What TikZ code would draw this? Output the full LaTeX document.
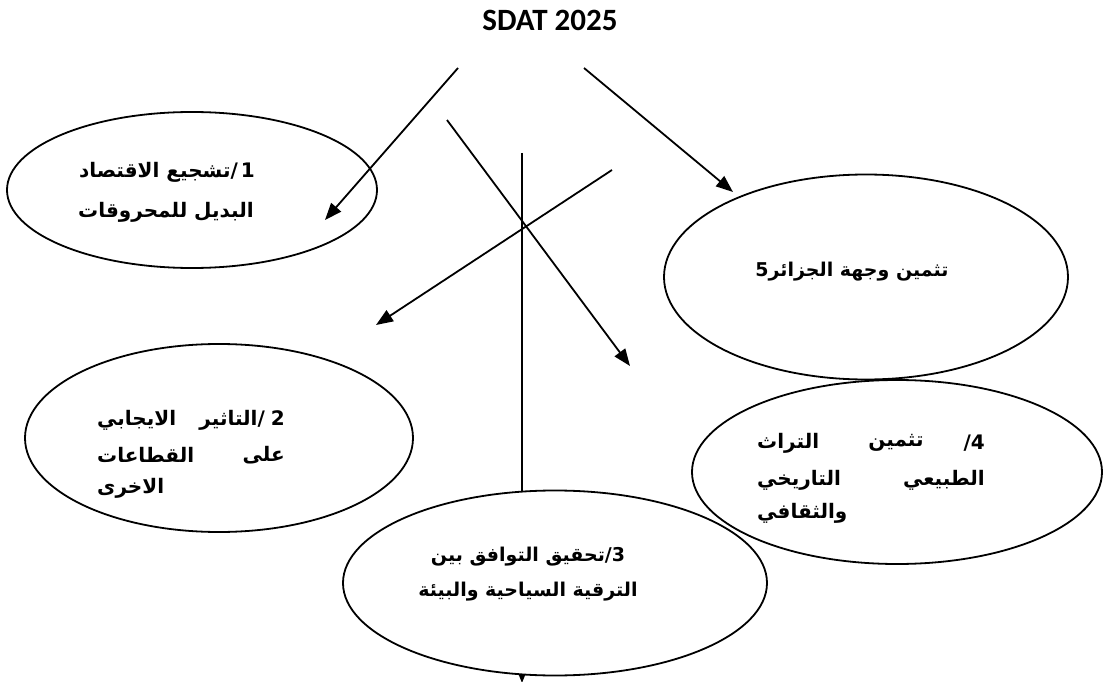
\documentclass[tikz,border=0pt]{standalone}
\usepackage{fontspec}
\usetikzlibrary{shapes.geometric,arrows.meta}
\TeXXeTstate=1
\newfontfamily\arabicfont[Script=Arabic]{DejaVu Sans}
\newfontfamily\titlefont{Carlito}
\begin{document}
\begin{tikzpicture}[x=1pt,y=-1pt,
  oval/.style={ellipse,draw,line width=1.8pt,fill=white,inner sep=0pt},
  conn/.style={line width=1.8pt,-{Triangle[length=17pt,width=13pt]}},
  ar/.style={font=\arabicfont\bfseries\fontsize{20}{24}\selectfont,inner sep=0pt},
  arsm/.style={font=\arabicfont\bfseries\fontsize{19}{23}\selectfont,inner sep=0pt}]
\useasboundingbox[fill=white] (0,0) rectangle (1104,682);

\node[font=\titlefont\bfseries\fontsize{31}{36}\selectfont,inner sep=0pt] (title) at (550,20) {SDAT 2025};

\coordinate (s1) at (458,68);  \coordinate (t1) at (325,220);
\coordinate (s5) at (584,68);  \coordinate (t5) at (733,192);
\coordinate (s4) at (447,120); \coordinate (t4) at (630,366);
\coordinate (s2) at (612,170); \coordinate (t2) at (376,325);
\coordinate (s3) at (522,153); \coordinate (t3) at (522,683);

\draw[conn] (s3) -- (t3);

\node[oval,minimum width=370pt,minimum height=156pt] (e1) at (192,190) {};
\node[oval,minimum width=404pt,minimum height=205pt] (e5) at (866,277) {};
\node[oval,minimum width=388pt,minimum height=188pt] (e2) at (219,438) {};
\node[oval,minimum width=410pt,minimum height=184pt] (e4) at (897,472) {};
\node[oval,minimum width=424pt,minimum height=185pt] (e3) at (555,583) {};

\draw[conn] (s1) -- (t1);
\draw[conn] (s5) -- (t5);
\draw[conn] (s4) -- (t4);
\draw[conn] (s2) -- (t2);

% ellipse 1
\node[ar,anchor=east] (e1a) at (255,172) {\hbox{\beginR تشجيع الاقتصاد\endR}\hbox{/}\kern3pt\hbox{1}};
\node[ar,anchor=west] (e1b) at (78,212) {\beginR البديل للمحروقات\endR};
% ellipse 5
\node[arsm] (e5a) at (852,272) {\hbox{5}\hbox{\beginR تثمين وجهة الجزائر\endR}};
% ellipse 2
\node[ar,anchor=east] (e2a) at (285,420) {\hbox{\beginR التاثير\endR}\hbox{/}\kern6pt\hbox{2}};
\node[ar,anchor=west] (e2a2) at (97,420) {\beginR الايجابي\endR};
\node[ar,anchor=east] (e2b) at (285,455) {\beginR على\endR};
\node[ar,anchor=west] (e2c) at (97,455) {\beginR القطاعات\endR};
\node[ar,anchor=west] (e2d) at (97,488) {\beginR الاخرى\endR};
% ellipse 4
\node[ar,anchor=east] (e4a) at (985,443) {\hbox{/}\hbox{4}};
\node[ar] (e4b) at (896,443) {\beginR تثمين\endR};
\node[ar,anchor=west] (e4c) at (757,443) {\beginR التراث\endR};
\node[ar,anchor=east] (e4d) at (985,480) {\beginR الطبيعي\endR};
\node[ar,anchor=west] (e4e) at (757,480) {\beginR التاريخي\endR};
\node[ar,anchor=west] (e4f) at (757,513) {\beginR والثقافي\endR};
% ellipse 3
\node[arsm] (e3a) at (528,557) {\hbox{\beginR تحقيق التوافق بين\endR}\hbox{/}\hbox{3}};
\node[arsm] (e3b) at (528,592) {\beginR الترقية السياحية والبيئة\endR};
\end{tikzpicture}
\end{document}
